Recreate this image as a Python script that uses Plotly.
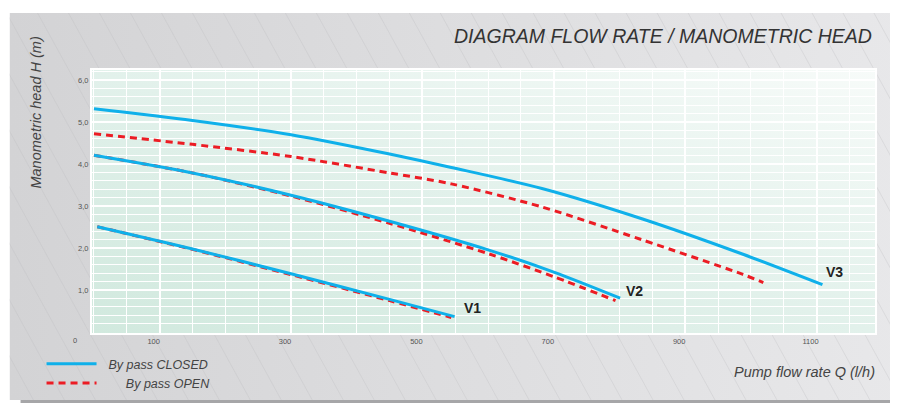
import base64
import plotly.graph_objects as go

# ---------------- data ----------------
q_v1_closed = [5, 150, 300, 450, 549]
h_v1_closed = [2.51, 1.98, 1.39, 0.78, 0.37]
q_v1_open = [5, 150, 300, 450, 544]
h_v1_open = [2.51, 1.97, 1.37, 0.75, 0.35]

q_v2_closed = [0, 150, 300, 450, 600, 700, 801]
h_v2_closed = [4.21, 3.79, 3.26, 2.64, 1.96, 1.43, 0.81]
q_v2_open = [0, 150, 300, 450, 600, 700, 794]
h_v2_open = [4.21, 3.79, 3.24, 2.59, 1.87, 1.32, 0.75]

q_v3_closed = [0, 150, 300, 450, 544, 682, 834, 987, 1109]
h_v3_closed = [5.32, 5.04, 4.70, 4.24, 3.92, 3.42, 2.70, 1.86, 1.13]
q_v3_open = [0, 150, 300, 450, 544, 682, 834, 987, 1019]
h_v3_open = [4.72, 4.47, 4.18, 3.79, 3.53, 2.98, 2.20, 1.38, 1.18]

x_tick_values = [100, 300, 500, 700, 900, 1100]
y_tick_values = [1, 2, 3, 4, 5, 6]
curve_labels = ["V1", "V2", "V3"]

title_text = "DIAGRAM FLOW RATE / MANOMETRIC HEAD"
x_title = "Pump flow rate Q (l/h)"
y_title = "Manometric head H (m)"
legend_closed = "By pass CLOSED"
legend_open = "By pass OPEN"

# ---------------- styling / layout ----------------
OFF = 8                      # page body margin
W, H = 898 - OFF, 403 - OFF  # figure fits exactly in the window
ML, MR, MT, MB = 83.5, 23, 62, 70
PW, PH = W - ML - MR, H - MT - MB

def px(xs):  # screen x -> paper
    return (xs - OFF - ML) / PW

def py(ys):  # screen y -> paper
    return (H - MB - (ys - OFF)) / PH

BLUE = "#0fb0ea"
RED = "#ec1c24"
FONT = "Liberation Sans, Arial, sans-serif"

# gray panel background (gradient + faint diagonal lines)
pw_, ph_ = 900, 387
lines = "".join(
    f'<line x1="{x}" y1="0" x2="{x + 0.55 * ph_:.1f}" y2="{ph_}" stroke="#bdbdc0" stroke-width="0.7" stroke-opacity="0.45"/>'
    for x in range(-220, pw_, 31)
)
panel_svg = (
    f'<svg xmlns="http://www.w3.org/2000/svg" width="{pw_}" height="{ph_}" viewBox="0 0 {pw_} {ph_}" preserveAspectRatio="none">'
    '<defs><linearGradient id="g" x1="0" y1="0" x2="1" y2="0">'
    '<stop offset="0" stop-color="#d3d3d5"/><stop offset="1" stop-color="#e8e8ea"/>'
    '</linearGradient></defs>'
    f'<rect width="{pw_}" height="{ph_}" fill="url(#g)"/>{lines}</svg>'
)
plot_svg = (
    '<svg xmlns="http://www.w3.org/2000/svg" width="800" height="270" viewBox="0 0 800 270" preserveAspectRatio="none">'
    '<defs><linearGradient id="p" x1="0" y1="1" x2="1" y2="0">'
    '<stop offset="0" stop-color="#d1e9de"/><stop offset="0.5" stop-color="#e2f1eb"/>'
    '<stop offset="1" stop-color="#f7fbf9"/>'
    '</linearGradient></defs>'
    '<rect width="800" height="270" fill="url(#p)"/></svg>'
)

def uri(svg):
    return "data:image/svg+xml;base64," + base64.b64encode(svg.encode()).decode()

fig = go.Figure()

dash = "7px,5px"
series = [
    (q_v1_open, h_v1_open, RED, dash, False, "open"),
    (q_v2_open, h_v2_open, RED, dash, False, "open"),
    (q_v3_open, h_v3_open, RED, dash, True, "open"),
    (q_v1_closed, h_v1_closed, BLUE, "solid", True, "closed"),
    (q_v2_closed, h_v2_closed, BLUE, "solid", False, "closed"),
    (q_v3_closed, h_v3_closed, BLUE, "solid", False, "closed"),
]
for q, h, col, ds, show, grp in series:
    fig.add_trace(go.Scatter(
        x=q, y=h, mode="lines",
        line=dict(color=col, width=3, dash=ds, shape="spline", smoothing=0.8),
        name=("\u00a0" * 2 + legend_closed) if grp == "closed" else ("\u00a0" * 7 + legend_open),
        legendgroup=grp, showlegend=show,
        legendrank=1 if grp == "closed" else 2,
        hoverinfo="skip",
    ))

# curve labels at the end of the closed curves
ends = [(q_v1_closed[-1], h_v1_closed[-1], 7, 9),
        (q_v2_closed[-1], h_v2_closed[-1], 4, 7),
        (q_v3_closed[-1], h_v3_closed[-1], 2, 13)]
annotations = []
for lab, (xe, ye, dx, dy) in zip(curve_labels, ends):
    annotations.append(dict(
        x=xe, y=ye, xref="x", yref="y", text=lab, showarrow=False,
        xanchor="left", yanchor="middle", xshift=dx, yshift=dy,
        font=dict(family=FONT, size=14, color="#222222", weight="bold"),
    ))

annotations += [
    dict(x=px(874), y=py(36), xref="paper", yref="paper", text=title_text,
         showarrow=False, xanchor="right", yanchor="middle",
         font=dict(family=FONT, size=19.5, color="#333333", style="italic")),
    dict(x=px(877), y=py(372), xref="paper", yref="paper", text=x_title,
         showarrow=False, xanchor="right", yanchor="middle",
         font=dict(family=FONT, size=14.5, color="#444444", style="italic")),
    dict(x=px(35), y=py(113), xref="paper", yref="paper", text=y_title,
         showarrow=False, xanchor="center", yanchor="middle", textangle=-90,
         font=dict(family=FONT, size=14.5, color="#444444", style="italic")),
    dict(x=px(74), y=py(340), xref="paper", yref="paper", text="0",
         showarrow=False, xanchor="center", yanchor="middle",
         font=dict(family=FONT, size=7.5, color="#555555")),
]

fig.update_layout(
    width=W, height=H,
    margin=dict(l=ML, r=MR, t=MT, b=MB, pad=0, autoexpand=False),
    paper_bgcolor="white", plot_bgcolor="rgba(0,0,0,0)",
    separators=",.",
    showlegend=True,
    legend=dict(
        x=px(41), y=py(349), xref="paper", yref="paper",
        xanchor="left", yanchor="top",
        bgcolor="rgba(0,0,0,0)", itemwidth=50,
        font=dict(family=FONT, size=12.5, color="#444444", style="italic"),
        tracegroupgap=0,
    ),
    images=[
        dict(source=uri(panel_svg), xref="paper", yref="paper",
             x=px(9), y=py(13), sizex=px(909) - px(9), sizey=py(13) - py(400),
             xanchor="left", yanchor="top", sizing="stretch", layer="below"),
        dict(source=uri(plot_svg), xref="paper", yref="paper",
             x=0, y=1, sizex=1, sizey=1,
             xanchor="left", yanchor="top", sizing="stretch", layer="below"),
    ],
    shapes=[
        dict(type="rect", xref="paper", yref="paper",
             x0=px(20), x1=px(905), y0=py(403), y1=py(400),
             fillcolor="#a6a6a8", line=dict(width=0), layer="below"),
    ],
    annotations=annotations,
    xaxis=dict(
        range=[-3, 1189], tickmode="linear", tick0=100, dtick=200,
        showgrid=True, gridcolor="white", gridwidth=2,
        zeroline=False, showline=True, linecolor="white", linewidth=2, mirror=True,
        ticks="", ticklabelshift=-6,
        tickfont=dict(family=FONT, size=7.5, color="#555555"),
        minor=dict(tickmode="linear", tick0=0, dtick=50, showgrid=True,
                   gridcolor="white", gridwidth=1.2),
        fixedrange=True,
    ),
    yaxis=dict(
        range=[-0.02, 6.24], tickmode="array", tickvals=y_tick_values,
        tickformat=".1f",
        showgrid=True, gridcolor="white", gridwidth=2,
        zeroline=False, showline=True, linecolor="white", linewidth=2, mirror=True,
        ticks="",
        tickfont=dict(family=FONT, size=7.5, color="#555555"),
        minor=dict(tickmode="linear", tick0=0, dtick=0.2, showgrid=True,
                   gridcolor="white", gridwidth=1.2),
        fixedrange=True,
    ),
)

fig.write_html("out.html", post_script="document.body.style.overflow='hidden';")
